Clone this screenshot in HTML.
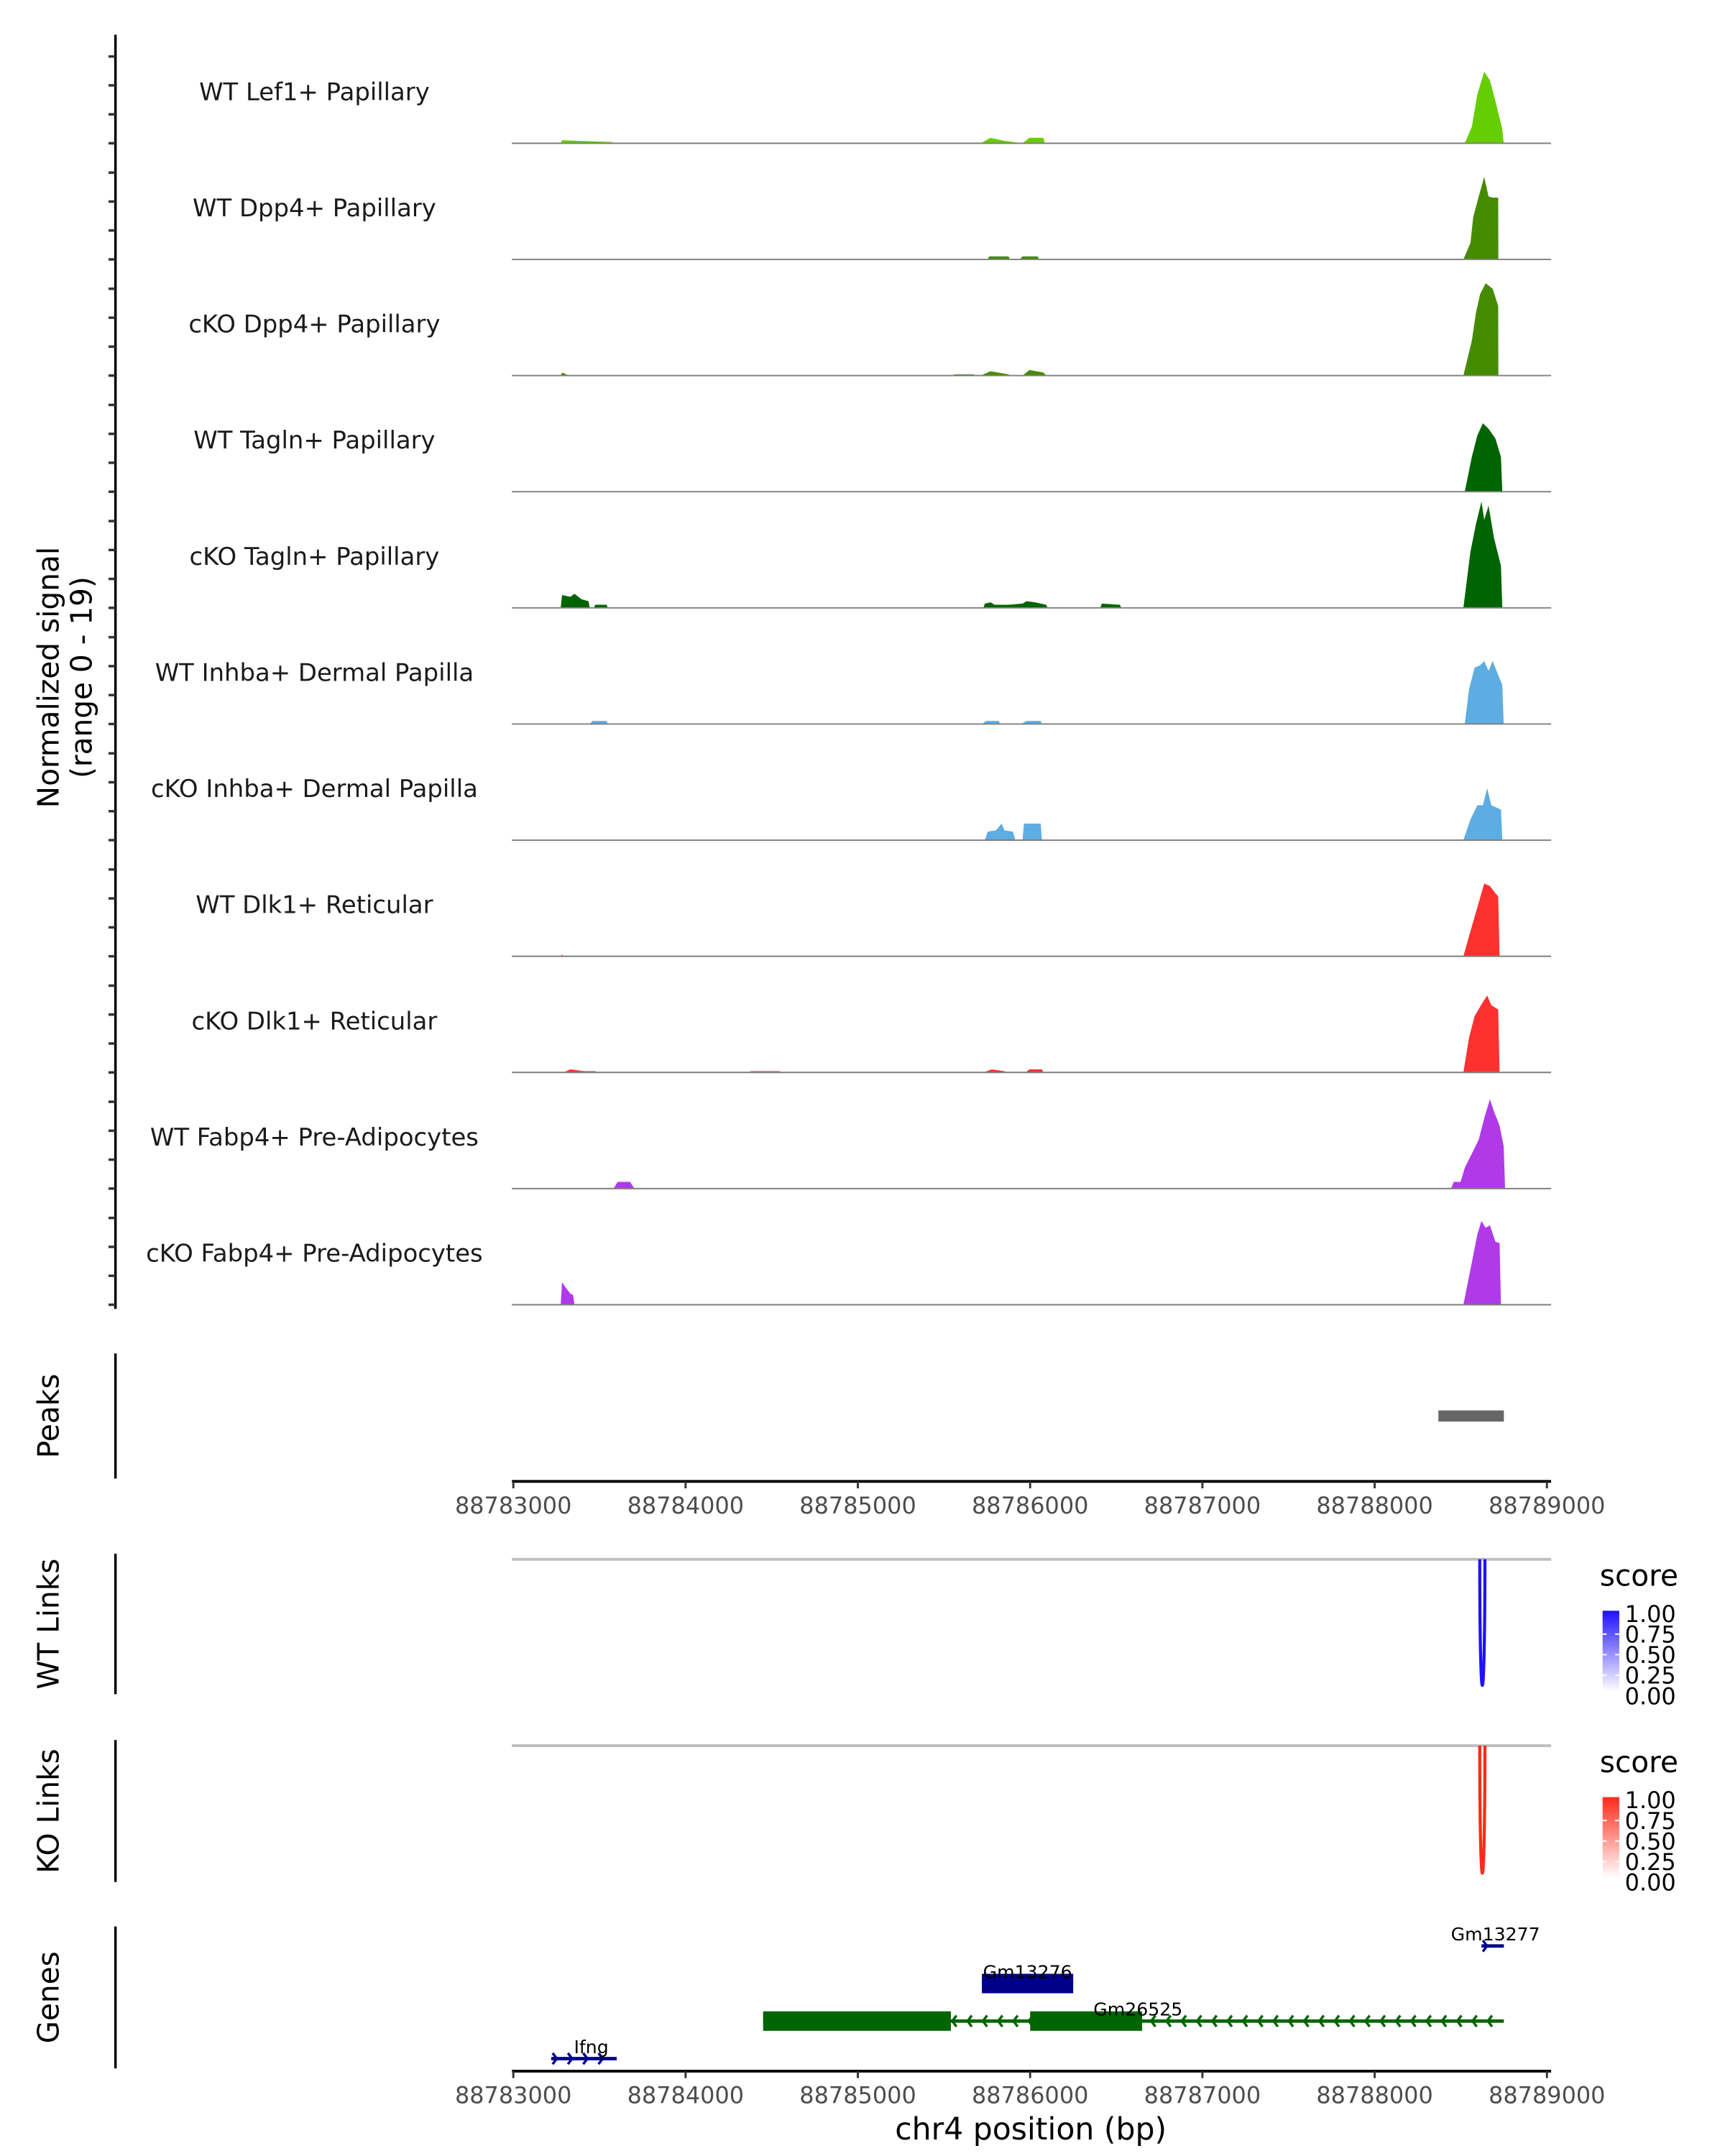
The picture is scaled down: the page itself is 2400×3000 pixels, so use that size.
<!DOCTYPE html>
<html><head><meta charset="utf-8">
<style>
html,body{margin:0;padding:0;background:#fff;}
svg{display:block;font-family:"DejaVu Sans","Liberation Sans",sans-serif;}
</style></head>
<body>
<svg id="chart" xmlns="http://www.w3.org/2000/svg" width="2400" height="3000" viewBox="0 0 1240 1550">
<g id="tracks"></g>
<g id="peaks"></g>
<g id="links"></g>
<g id="genes"></g>
</svg>
<script>
const regionStart = 88783000;
const regionEnd = 88789000;
const xTicks = [88783000, 88784000, 88785000, 88786000, 88787000, 88788000, 88789000];
const trackNames = ["WT Lef1+ Papillary","WT Dpp4+ Papillary","cKO Dpp4+ Papillary","WT Tagln+ Papillary","cKO Tagln+ Papillary","WT Inhba+ Dermal Papilla","cKO Inhba+ Dermal Papilla","WT Dlk1+ Reticular","cKO Dlk1+ Reticular","WT Fabp4+ Pre-Adipocytes","cKO Fabp4+ Pre-Adipocytes"];
const trackColors = ["#66cd00","#458b00","#458b00","#006400","#006400","#5dade2","#5dade2","#ff3030","#ff3030","#b03ae8","#b03ae8"];
const signalMax = 19;
// positions as bp offsets from regionStart; values normalized signal
const signalOffsets = [
 [275,283,573,581, 2713,2770,2851,2956,2996,3077,3085, 5523,5564,5596,5636,5669,5701,5741,5749],
 [2754,2762,2875,2883, 2939,2956,3044,3052, 5515,5556,5572,5604,5636,5661,5685,5717,5718],
 [275,283,323, 2552,2560,2673,2681, 2713,2770,2875,2883, 2956,2996,3077,3093, 5515,5564,5588,5612,5644,5685,5717,5718],
 [5523,5564,5596,5628,5661,5701,5733,5741],
 [275,283,331,355,396,436,444, 468,476,541,549, 2729,2737,2770,2794,2875,2956,2980,3028,3093,3101, 3408,3416,3521,3529, 5515,5556,5588,5620,5636,5661,5693,5733,5741],
 [444,460,541,549, 2721,2745,2818,2826, 2948,2980,3061,3069, 5523,5548,5580,5612,5636,5661,5685,5717,5741,5749],
 [2737,2754,2802,2834,2851,2899,2915, 2956,2964,3061,3069, 5515,5556,5596,5628,5653,5677,5733,5741],
 [275,283,291, 5515,5556,5596,5636,5669,5701,5717,5725],
 [291,331,412,476,484, 1357,1381,1542,1567, 2729,2778,2851,2859, 2972,2996,3069,3077, 5515,5548,5580,5628,5653,5677,5717,5725],
 [581,606,678,703, 5443,5459,5499,5523,5564,5604,5636,5669,5693,5725,5749,5757],
 [275,283,299,331,347,355, 5515,5564,5596,5620,5644,5669,5701,5725,5733]
];
const signalValues = [
 [0,0.5,0.2,0, 0,0.9,0.4,0,0.9,0.9,0, 0,2.7,8,11.7,10.3,6.9,2.3,0],
 [0,0.5,0.5,0, 0,0.5,0.5,0, 0,2.7,6.9,10.3,13.5,10.3,10.1,10.1,0],
 [0,0.5,0, 0,0.2,0.2,0, 0,0.7,0.2,0, 0,0.9,0.5,0, 0,5.7,10.3,13.3,15.1,14.2,11.4,0],
 [0,5.7,9.2,11.2,10.3,8.7,5.7,0],
 [0,2.1,1.8,2.3,1.4,1.1,0, 0,0.5,0.5,0, 0,0.7,0.9,0.5,0.5,0.7,1.1,0.9,0.5,0, 0,0.7,0.5,0, 0,9.2,13.7,17.4,14.4,16.7,11.4,6.9,0],
 [0,0.5,0.5,0, 0,0.5,0.5,0, 0,0.5,0.5,0, 0,5.7,9.2,9.6,10.3,8.7,10.3,8,6.4,0],
 [0,1.4,1.6,2.7,1.6,1.4,0, 0,2.7,2.7,0, 0,3.4,5.7,5.7,8.5,5.7,5,0],
 [0,0.3,0, 0,4.1,8,11.9,11.5,10.3,9.8,0],
 [0,0.5,0.2,0.2,0, 0,0.2,0.2,0, 0,0.5,0.2,0, 0,0.5,0.5,0, 0,5.7,9.2,11.5,12.6,11,10.3,0],
 [0,1.1,1.1,0, 0,1.1,1.1,3.4,5.7,8,11.5,14.6,12.6,10.3,6.9,0],
 [0,3.7,3,1.8,1.6,0, 0,6.9,11.5,13.7,12.6,13,10.3,10.1,0]
];
const peakStarts = [88788370];
const peakEnds = [88788750];
const linkWTStart = 88788610, linkWTEnd = 88788640, linkWTScore = 1.0;
const linkKOStart = 88788610, linkKOEnd = 88788640, linkKOScore = 1.0;
const legendTicks = ["1.00","0.75","0.50","0.25","0.00"];
const geneNames = ["Gm13277","Gm13276","Gm26525","Ifng"];
const geneStarts = [88788620, 88785720, 88784450, 88783220];
const geneEnds = [88788750, 88786250, 88788750, 88783600];
const geneStrands = ["+","+","-","+"];
const geneRows = [0,1,2,3];
const geneColors = ["#00008b","#00008b","#006400","#00008b"];
const exonStarts = [[],[88785720],[88784450,88786000],[]];
const exonEnds = [[],[88786250],[88785540,88786650],[]];

const NS = "http://www.w3.org/2000/svg";
const X0 = 369, X1 = 1112, PL = 368, PR = 1115;
function xs(bp){ return X0 + (bp - regionStart) / (regionEnd - regionStart) * (X1 - X0); }
function mk(tag, attrs, parent, txt){
  const e = document.createElementNS(NS, tag);
  for (const k in attrs) e.setAttribute(k, attrs[k]);
  if (txt !== undefined) e.textContent = txt;
  parent.appendChild(e); return e;
}
const svg = document.getElementById('chart');
const gT = document.getElementById('tracks');
const trackH = 83.5, firstBase = 103;

// left axis
let ax = mk('line',{x1:83,y1:25,x2:83,y2:941,stroke:'#000','stroke-width':1.8},gT);


let yt = mk('text',{transform:'translate(42,487) rotate(-90)','text-anchor':'middle','font-size':21,fill:'#000'},gT);


mk('tspan',{x:0,dy:0},yt,'Normalized signal');
mk('tspan',{x:0,dy:24},yt,'(range 0 - 19)');

trackNames.forEach((name,i)=>{
  const base = firstBase + i*trackH;
  const g = mk('g',{},gT);
  
  
  for (let k=0;k<4;k++){
    const t = mk('line',{x1:78,x2:83,y1:base-k*20.8,y2:base-k*20.8,stroke:'#333','stroke-width':1.8},g);
    
    
  }
  const lbl = mk('text',{x:226,y:base-31,'text-anchor':'middle','font-size':17.5,fill:'#1a1a1a'},g,name);
  
  
  const offs = signalOffsets[i], vals = signalValues[i];
  let d = 'M'+xs(regionStart+offs[0])+','+base;
  offs.forEach((o,j)=>{ d += ' L'+xs(regionStart+o).toFixed(2)+','+(base - vals[j]/signalMax*trackH).toFixed(2); });
  d += ' L'+xs(regionStart+offs[offs.length-1])+','+base+' Z';
  const area = mk('path',{d:d,fill:trackColors[i]},g);
  
  
  const bl = mk('line',{x1:PL,x2:PR,y1:base,y2:base,stroke:'#7f7f7f','stroke-width':1},g);
  
  
});

function xAxis(parent, y, name){
  const g = mk('g',{},parent);
  
  
  mk('line',{x1:PL,x2:PR,y1:y,y2:y,stroke:'#000','stroke-width':2},g);
  xTicks.forEach(t=>{
    mk('line',{x1:xs(t),x2:xs(t),y1:y,y2:y+5,stroke:'#333','stroke-width':1.5},g);
    const tl = mk('text',{x:xs(t),y:y+23,'text-anchor':'middle','font-size':16.5,fill:'#4d4d4d'},g,t);
    
    
  });
}
function panelLabel(parent, y1, y2, text, name){
  const l = mk('line',{x1:83,x2:83,y1:y1,y2:y2,stroke:'#000','stroke-width':1.8},parent);
  
  
  const t = mk('text',{transform:'translate(42,'+((y1+y2)/2)+') rotate(-90)','text-anchor':'middle','font-size':21,fill:'#000'},parent,text);
  
  
}

// peaks
const gP = document.getElementById('peaks');
panelLabel(gP, 973, 1063, 'Peaks', 'peaks');
peakStarts.forEach((s,i)=>{
  const r = mk('rect',{x:xs(s),y:1014,width:xs(peakEnds[i])-xs(s),height:8,fill:'#666'},gP);
  
  
});
xAxis(gP, 1065, 'peaks-x-axis');

// links
const gL = document.getElementById('links');
function linkPanel(top, bottom, title, name, s, e, score, color, gradId){
  panelLabel(gL, top-4, bottom, title, name);
  const gl = mk('line',{x1:PL,x2:PR,y1:top,y2:top,stroke:'#bebebe','stroke-width':2},gL);
  
  
  const depth = (bottom - top - 4) * score;
  const a = xs(s), b = xs(e), m = (a+b)/2;
  const arc = mk('path',{d:'M'+a+','+top+' C'+a+','+(top+depth*1.3)+' '+b+','+(top+depth*1.3)+' '+b+','+top,fill:'none',stroke:color,'stroke-width':2.2},gL);
  
  
  const lg = mk('g',{},gL);
  
  
  mk('text',{x:1150,y:top+19,'font-size':21,fill:'#000'},lg,'score');
  const defs = mk('defs',{},lg);
  const grad = mk('linearGradient',{id:gradId,x1:0,y1:0,x2:0,y2:1},defs);
  mk('stop',{offset:0,'stop-color':color},grad);
  mk('stop',{offset:1,'stop-color':'#fff'},grad);
  const cb = mk('rect',{x:1152,y:top+37,width:12,height:58,fill:'url(#'+gradId+')'},lg);
  
  
  legendTicks.forEach((t,k)=>{
    const yy = top+39 + k*14.8;
    mk('text',{x:1168,y:yy+6,'font-size':16.5,fill:'#000'},lg,t);
    if(k>0&&k<4){ mk('line',{x1:1152,x2:1155,y1:yy,y2:yy,stroke:'#fff'},lg); mk('line',{x1:1161,x2:1164,y1:yy,y2:yy,stroke:'#fff'},lg); }
  });
}
linkPanel(1121, 1218, 'WT Links', 'wt-links', linkWTStart, linkWTEnd, linkWTScore, '#2010ff', 'gwt');
linkPanel(1255, 1353, 'KO Links', 'ko-links', linkKOStart, linkKOEnd, linkKOScore, '#ff2a1a', 'gko');

// genes
const gG = document.getElementById('genes');
panelLabel(gG, 1385, 1487, 'Genes', 'genes');
const rowY = [1399, 1426, 1453, 1480];
geneNames.forEach((n,i)=>{
  const g = mk('g',{},gG);
  
  
  const y = rowY[geneRows[i]], c = geneColors[i];
  const a = xs(geneStarts[i]), b = xs(geneEnds[i]);
  mk('line',{x1:a,x2:b,y1:y,y2:y,stroke:c,'stroke-width':2.5},g);
  const step = 11;
  for (let x = a+4; x < b-2; x += step){
    const dir = geneStrands[i] === '+' ? 1 : -1;
    mk('path',{d:'M'+(x-3*dir)+','+(y-4)+' L'+x+','+y+' L'+(x-3*dir)+','+(y+4),fill:'none',stroke:c,'stroke-width':1.8},g);
  }
  exonStarts[i].forEach((s,k)=>{
    mk('rect',{x:xs(s),y:y-7,width:xs(exonEnds[i][k])-xs(s),height:14,fill:c},g);
  });
  const lx = i===2 ? 818 : (i===3 ? 425 : (a+b)/2 + (i===0?2:0));
  mk('text',{x:lx,y:y-4,'text-anchor':'middle','font-size':13,fill:'#000'},g,n);
});
xAxis(gG, 1489, 'genes-x-axis');
const xt = mk('text',{x:741,y:1538,'text-anchor':'middle','font-size':22,fill:'#000'},gG,'chr4 position (bp)');


</script>
</body></html>
